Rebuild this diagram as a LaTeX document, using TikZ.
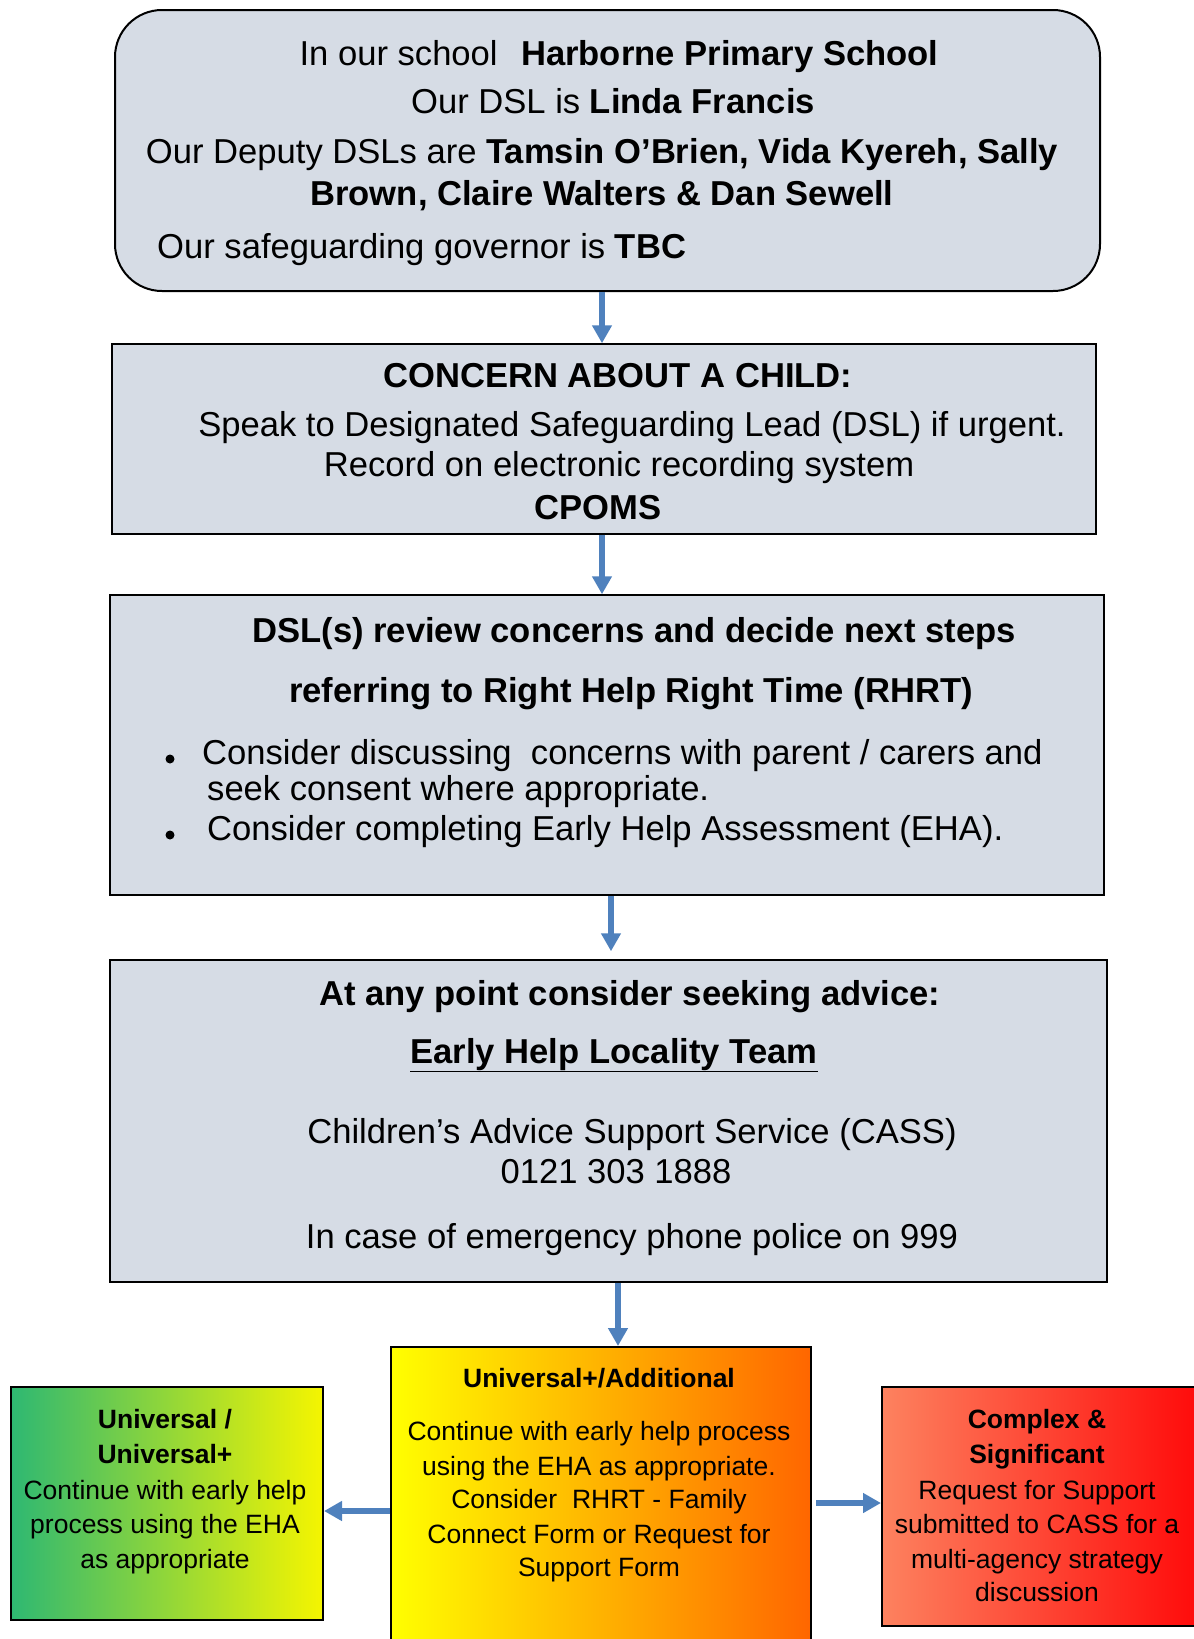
\documentclass[tikz,border=0pt]{standalone}
\usepackage{fontspec}
\setmainfont{Liberation Sans}
\usetikzlibrary{arrows.meta}
\definecolor{boxfill}{RGB}{214,220,229}
\definecolor{arrblue}{RGB}{79,129,189}
\definecolor{gL}{RGB}{46,184,114}
\definecolor{yR}{RGB}{245,245,0}
\definecolor{yL}{RGB}{255,255,0}
\definecolor{oR}{RGB}{255,102,0}
\definecolor{sL}{RGB}{253,130,95}
\definecolor{rR}{RGB}{255,10,10}
\begin{document}
\begin{tikzpicture}[x=1pt,y=-1pt,
  mainbox/.style={draw=black, line width=1.5pt, fill=boxfill, inner sep=0pt},
  lowbox/.style={draw=black, line width=2pt, inner sep=0pt},
  big/.style={font=\fontsize{34.6}{40}\selectfont, inner sep=0pt, anchor=base},
  small/.style={font=\fontsize{26.5}{34}\selectfont, inner sep=0pt, anchor=base},
  bul/.style={circle, fill=black, inner sep=0pt, minimum size=9pt},
  arr/.style={draw=arrblue, line width=5.5pt, -{Triangle[width=19pt,length=18pt]}}]
\useasboundingbox (0,0) rectangle (1194,1639);

% boxes
\node[mainbox, line width=2pt, rounded corners=47pt, minimum width=985pt, minimum height=281pt] (b1) at (607.5,150.5) {};
\node[mainbox, minimum width=984pt, minimum height=190pt] (b2) at (604,439) {};
\node[mainbox, minimum width=994pt, minimum height=300pt] (b3) at (607,745) {};
\node[mainbox, minimum width=997pt, minimum height=322pt] (b4) at (608.5,1121) {};
\node[lowbox, left color=yL, right color=oR, minimum width=420pt, minimum height=313pt] (b5) at (601,1503.5) {};
\node[lowbox, left color=gL, right color=yR, minimum width=312pt, minimum height=233pt] (bl) at (167,1503.5) {};
\node[lowbox, left color=sL, right color=rR, minimum width=318pt, minimum height=239pt] (br) at (1041,1506.5) {};

% box 1 text
\node[big] (t11) at (619,65) {In our school\hspace{0.4em} \bfseries Harborne Primary School};
\node[big] (t12) at (613,113) {Our DSL is \bfseries Linda Francis};
\node[big] (t13) at (602,163) {Our Deputy DSLs are \bfseries Tamsin O’Brien, Vida Kyereh, Sally};
\node[big] (t14) at (602,205) {\bfseries Brown, Claire Walters \& Dan Sewell};
\node[big, anchor=base west] (t15) at (157,258) {Our safeguarding governor is \bfseries TBC};

% box 2 text
\node[big] (t21) at (618,387) {\bfseries CONCERN ABOUT A CHILD:};
\node[big] (t22) at (632,436) {Speak to Designated Safeguarding Lead (DSL) if urgent.};
\node[big] (t23) at (619,476) {Record on electronic recording system};
\node[big] (t24) at (598,519) {\bfseries CPOMS};

% box 3 text
\node[big] (t31) at (634,642) {\bfseries DSL(s) review concerns and decide next steps};
\node[big] (t32) at (631,702) {\bfseries referring to Right Help Right Time (RHRT)};
\node[bul] (p1) at (170,759) {};
\node[big, anchor=base west] (t33) at (202,764) {Consider discussing\ \ concerns with parent / carers and};
\node[big, anchor=base west] (t34) at (207,800) {seek consent where appropriate.};
\node[bul] (p2) at (170,835) {};
\node[big, anchor=base west] (t35) at (207,840) {Consider completing Early Help Assessment (EHA).};

% box 4 text
\node[big] (t41) at (630,1005) {\bfseries At any point consider seeking advice:};
\node[big] (t42) at (614,1063) {\bfseries\underline{Early Help Locality Team}};
\node[big] (t43) at (632,1143) {Children’s Advice Support Service (CASS)};
\node[big] (t44) at (616,1183) {0121 303 1888};
\node[big] (t45) at (632,1248) {In case of emergency phone police on 999};

% middle bottom box
\node[small] (m1) at (599,1387) {\bfseries Universal+/Additional};
\node[small] (m2) at (599,1440) {Continue with early help process};
\node[small] (m3) at (599,1475) {using the EHA as appropriate.};
\node[small] (m4) at (599,1508) {Consider\ \ RHRT - Family};
\node[small] (m5) at (599,1543) {Connect Form or Request for};
\node[small] (m6) at (599,1576) {Support Form};

% left bottom box
\node[small] (l1) at (165,1428) {\bfseries Universal /};
\node[small] (l2) at (165,1463) {\bfseries Universal+};
\node[small] (l3) at (165,1499) {Continue with early help};
\node[small] (l4) at (165,1533) {process using the EHA};
\node[small] (l5) at (165,1568) {as appropriate};

% right bottom box
\node[small] (r1) at (1037,1428) {\bfseries Complex \&};
\node[small] (r2) at (1037,1463) {\bfseries Significant};
\node[small] (r3) at (1037,1499) {Request for Support};
\node[small] (r4) at (1037,1533) {submitted to CASS for a};
\node[small] (r5) at (1037,1568) {multi-agency strategy};
\node[small] (r6) at (1037,1601) {discussion};

% arrows
\coordinate (x1) at (602,0);
\coordinate (x2) at (602,0);
\coordinate (x3) at (611,0);
\coordinate (x4) at (618,0);
\coordinate (yl) at (0,1511);
\coordinate (yr) at (0,1503);
\draw[arr] (x1 |- b1.south) -- (x1 |- b2.north);
\draw[arr] (x2 |- b2.south) -- (x2 |- b3.north);
\draw[arr, shorten >=8pt] (x3 |- b3.south) -- (x3 |- b4.north);
\draw[arr] (x4 |- b4.south) -- (x4 |- b5.north);
\draw[arr] (b5.west |- yl) -- (bl.east |- yl);
\draw[arr, shorten <=4pt] (b5.east |- yr) -- (br.west |- yr);
\end{tikzpicture}
\end{document}
